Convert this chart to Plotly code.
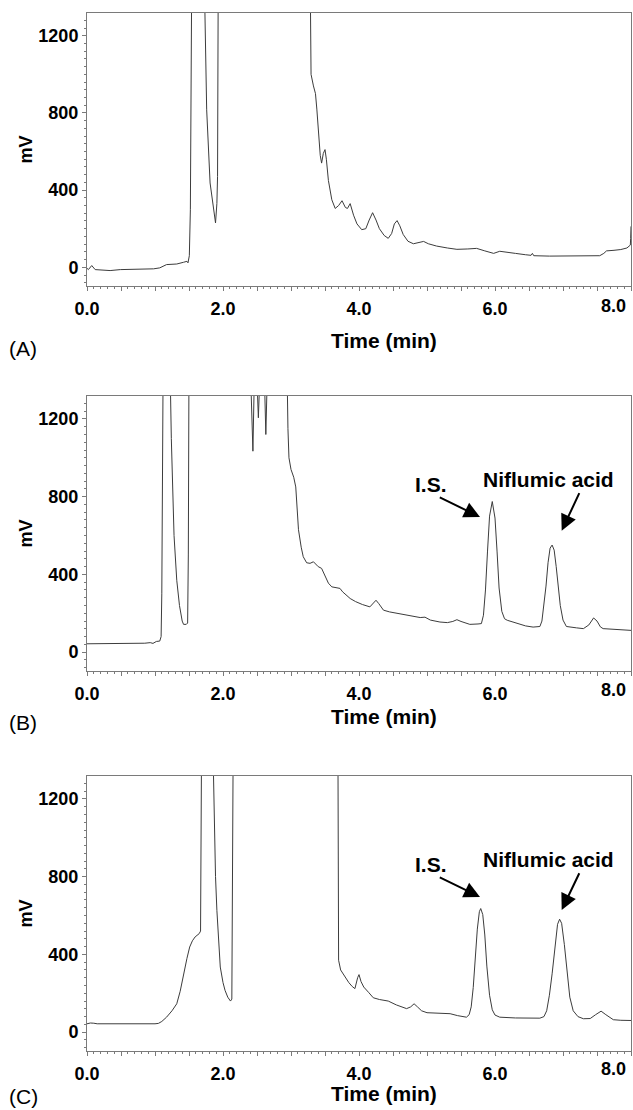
import plotly.graph_objects as go

W, H = 633, 1110

# ---------------- Panel A (blank) ----------------
time_a = [0.00, 0.02, 0.07, 0.12, 0.34, 0.49, 0.98, 1.07, 1.17, 1.32, 1.42, 1.47, 1.485, 1.505,
          1.52, 1.54, 1.725, 1.76, 1.81, 1.86, 1.89, 1.91, 1.92, 1.93, 3.28,
          3.285, 3.295, 3.33, 3.36, 3.38, 3.41, 3.43, 3.45, 3.475, 3.50, 3.52, 3.55, 3.60, 3.65,
          3.70, 3.75, 3.80, 3.83, 3.87, 3.92, 3.97, 4.04, 4.10, 4.15, 4.20, 4.25, 4.30, 4.37,
          4.43, 4.48, 4.52, 4.56, 4.60, 4.65, 4.72, 4.80, 4.88, 4.95, 5.02, 5.14, 5.30, 5.44,
          5.60, 5.73, 5.85, 5.98, 6.07, 6.15, 6.30, 6.45, 6.53, 6.55, 6.57, 6.80, 7.05, 7.30,
          7.54, 7.60, 7.64, 7.75, 7.85, 7.94, 7.97, 7.99, 7.995, 8.00]
mv_a = [-5, -12, 9, -12, -17, -12, -8, -3, 14, 17, 26, 31, 23, 60,
        298, 1500, 1500, 816, 437, 298, 230, 330, 471, 1500, 1500,
        1400, 1000, 940, 900, 820, 680, 580, 540, 590, 610, 560, 450, 350, 305,
        320, 345, 310, 305, 330, 270, 225, 195, 200, 245, 283, 245, 200, 165,
        150, 175, 225, 242, 215, 170, 135, 122, 128, 134, 122, 110, 100, 93,
        95, 98, 85, 72, 83, 78, 72, 65, 62, 72, 60, 58, 58, 59,
        60, 72, 85, 88, 92, 100, 108, 115, 150, 212]

# ---------------- Panel B (spiked) ----------------
time_b = [0.00, 0.78, 0.85, 0.93, 0.97, 1.02, 1.07, 1.09, 1.10, 1.12, 1.22, 1.24, 1.28, 1.32,
          1.36, 1.40, 1.42, 1.46, 1.48, 1.49, 1.50, 2.40, 2.42, 2.44, 2.46, 2.50, 2.52, 2.54,
          2.61, 2.63, 2.65, 2.94, 2.955, 2.97, 3.00, 3.04, 3.07, 3.09, 3.11, 3.15, 3.18, 3.23,
          3.28, 3.33, 3.36, 3.40, 3.45, 3.50, 3.55, 3.60, 3.66, 3.72, 3.76, 3.82, 3.87, 3.95,
          4.05, 4.16, 4.21, 4.25, 4.29, 4.36, 4.45, 4.60, 4.75, 4.90, 4.97, 5.05, 5.19, 5.30,
          5.38, 5.44, 5.50, 5.63, 5.75, 5.80, 5.83, 5.86, 5.89, 5.92, 5.96, 6.00, 6.03, 6.06,
          6.10, 6.14, 6.18, 6.30, 6.45, 6.56, 6.66, 6.69, 6.72, 6.75, 6.78, 6.81, 6.84, 6.87,
          6.90, 6.93, 6.96, 7.00, 7.05, 7.20, 7.30, 7.38, 7.45, 7.50, 7.55, 7.59, 7.80, 8.00]
mv_b = [43, 43, 46, 49, 45, 55, 57, 80, 300, 1500, 1500, 1100, 600, 370,
        240, 160, 143, 143, 150, 500, 1500, 1500, 1300, 1034, 1400, 1400, 1206, 1400,
        1400, 1120, 1400, 1500, 1150, 1000, 940, 900, 850, 740, 630, 540, 491, 460,
        457, 465, 455, 440, 431, 390, 355, 336, 330, 328, 310, 290, 276, 260,
        245, 233, 255, 267, 250, 216, 207, 198, 188, 178, 180, 165, 155, 152,
        158, 167, 158, 143, 145, 147, 190, 320, 520, 700, 775, 690, 520, 330,
        210, 172, 164, 150, 135, 129, 132, 160, 240, 340, 460, 535, 551, 525,
        440, 340, 240, 165, 132, 125, 121, 140, 176, 160, 130, 121, 115, 112]

# ---------------- Panel C (sample) ----------------
time_c = [0.00, 0.05, 0.10, 0.15, 1.00, 1.05, 1.10, 1.17, 1.25, 1.32, 1.37, 1.42, 1.47, 1.51,
          1.55, 1.59, 1.65, 1.67, 1.685, 1.85, 1.87, 1.89, 1.91, 1.94, 1.96, 2.00, 2.03, 2.07,
          2.11, 2.13, 2.14, 2.15, 3.69, 3.70, 3.73, 3.75, 3.80, 3.85, 3.90, 3.94, 3.98, 4.00,
          4.03, 4.07, 4.14, 4.21, 4.30, 4.43, 4.55, 4.70, 4.76, 4.81, 4.86, 4.92, 5.00, 5.15,
          5.34, 5.45, 5.58, 5.62, 5.65, 5.68, 5.71, 5.74, 5.77, 5.79, 5.82, 5.85, 5.88, 5.92,
          5.96, 6.00, 6.07, 6.30, 6.66, 6.72, 6.76, 6.80, 6.84, 6.88, 6.92, 6.95, 6.98, 7.02,
          7.06, 7.10, 7.15, 7.22, 7.30, 7.40, 7.48, 7.56, 7.63, 7.74, 7.85, 8.00]
mv_c = [43, 47, 46, 43, 43, 45, 55, 77, 110, 146, 210, 301, 380, 438,
        470, 490, 507, 520, 1500, 1500, 1100, 800, 627, 440, 335, 255, 215, 180,
        160, 170, 700, 1500, 1500, 370, 320, 309, 285, 255, 235, 224, 280, 296,
        260, 232, 205, 177, 168, 160, 140, 121, 130, 146, 130, 110, 100, 98,
        95, 85, 77, 90, 130, 230, 380, 530, 620, 636, 605, 500, 340, 190,
        115, 88, 77, 73, 72, 80, 110, 190, 300, 440, 555, 581, 560, 450,
        300, 180, 110, 80, 69, 70, 90, 108, 90, 64, 61, 60]

x_tickvals = [i * 0.5 for i in range(17)]
x_ticktext = [("%.1f" % v) if v in (0, 2, 4, 6) else "" for v in x_tickvals]
last_tick_label = "8.0"
y_tickvals = [0, 400, 800, 1200]
panel_labels = ["(A)", "(B)", "(C)"]

FONT = "Liberation Sans, Arial, sans-serif"
LINE_COL = "#7a7a7a"
TICK_SIZE = 18

def py(p):
    return 1 - p / H

def px(p):
    return p / W

fig = go.Figure()

# (top, bottom, x-title y, panel label y, tick label y) in pixels
panels = [(time_a, mv_a, 13, 286, 340, 348, 306),
          (time_b, mv_b, 396, 671, 716, 722, 690),
          (time_c, mv_c, 776, 1051, 1093, 1096, 1069)]

for i, (t, v, top, bot, title_y, lab_y, tick_y) in enumerate(panels):
    n = "" if i == 0 else str(i + 1)
    fig.add_trace(go.Scatter(x=t, y=v, mode="lines",
                             line=dict(color="#3c3c3c", width=1),
                             xaxis="x" + n, yaxis="y" + n,
                             showlegend=False, hoverinfo="skip"))
    fig.layout["xaxis" + n] = dict(
        domain=[px(87), px(631)], range=[0, 8], anchor="y" + n, automargin=False,
        showgrid=False, zeroline=False, showline=True, mirror=True,
        linecolor=LINE_COL, linewidth=1,
        tickmode="array", tickvals=x_tickvals, ticktext=x_ticktext,
        ticks="outside", ticklen=4, tickwidth=1, tickcolor=LINE_COL,
        ticklabelstandoff=2,
        minor=dict(dtick=0.1, tick0=0, ticks="outside", ticklen=2, tickcolor=LINE_COL),
        tickfont=dict(family=FONT, size=TICK_SIZE, color="black", weight="bold"),
    )
    fig.layout["yaxis" + n] = dict(
        domain=[py(bot), py(top)], range=[-97, 1318], anchor="x" + n, automargin=False,
        showgrid=False, zeroline=False, showline=True, mirror=True,
        linecolor=LINE_COL, linewidth=1,
        tickmode="array", tickvals=y_tickvals,
        ticks="outside", ticklen=4, tickwidth=1, tickcolor=LINE_COL,
        minor=dict(dtick=40, tick0=0, ticks="outside", ticklen=2, tickcolor=LINE_COL),
        tickfont=dict(family=FONT, size=TICK_SIZE, color="black", weight="bold"),
    )
    # last x tick label, pulled inside the figure edge as in the original
    fig.add_annotation(x=px(628), y=py(tick_y), xref="paper", yref="paper",
                       text="<b>%s</b>" % last_tick_label, showarrow=False,
                       font=dict(family=FONT, size=TICK_SIZE, color="black"),
                       xanchor="right", yanchor="middle")
    # y axis title
    fig.add_annotation(x=px(25), y=py((top + bot) / 2), xref="paper", yref="paper",
                       text="<b>mV</b>", showarrow=False, textangle=-90,
                       font=dict(family=FONT, size=18, color="black"),
                       xanchor="center", yanchor="middle")
    # x axis title
    fig.add_annotation(x=px(384), y=py(title_y), xref="paper", yref="paper",
                       text="<b>Time (min)</b>", showarrow=False,
                       font=dict(family=FONT, size=21, color="black"),
                       xanchor="center", yanchor="middle")
    # panel label
    fig.add_annotation(x=px(7), y=py(lab_y), xref="paper", yref="paper",
                       text=panel_labels[i], showarrow=False,
                       font=dict(family=FONT, size=21, color="black"),
                       xanchor="left", yanchor="middle")

# Peak annotations for panels B and C
for off in (0, 380):
    fig.add_annotation(x=px(431), y=py(484 + off), xref="paper", yref="paper",
                       text="<b>I.S.</b>", showarrow=False,
                       font=dict(family=FONT, size=21, color="black"),
                       xanchor="center", yanchor="middle")
    fig.add_annotation(x=px(548.3), y=py(479.3 + off), xref="paper", yref="paper",
                       text="<b>Niflumic acid</b>", showarrow=False,
                       font=dict(family=FONT, size=21, color="black"),
                       xanchor="center", yanchor="middle")

arrows = [((438.3, 496.7), (480, 517)), ((580, 491.7), (561.7, 530.7)),
          ((438.3, 876.7), (480, 897)), ((580, 871.7), (561.7, 910))]
for (tx, ty), (hx, hy) in arrows:
    fig.add_annotation(x=px(hx), y=py(hy), xref="paper", yref="paper",
                       ax=tx - hx, ay=ty - hy, text="", showarrow=True,
                       arrowhead=2, arrowsize=1.6, arrowwidth=2, arrowcolor="black")

fig.update_layout(width=W, height=H, autosize=False,
                  margin=dict(l=0, r=0, t=0, b=0, autoexpand=False),
                  paper_bgcolor="white", plot_bgcolor="white",
                  font=dict(family=FONT, color="black"))

fig.write_html("out.html",
               config={"displayModeBar": False},
               post_script="document.body.style.margin='0';"
                           "document.body.style.padding='0';"
                           "document.body.style.overflow='hidden';"
                           "document.documentElement.style.overflow='hidden';")
